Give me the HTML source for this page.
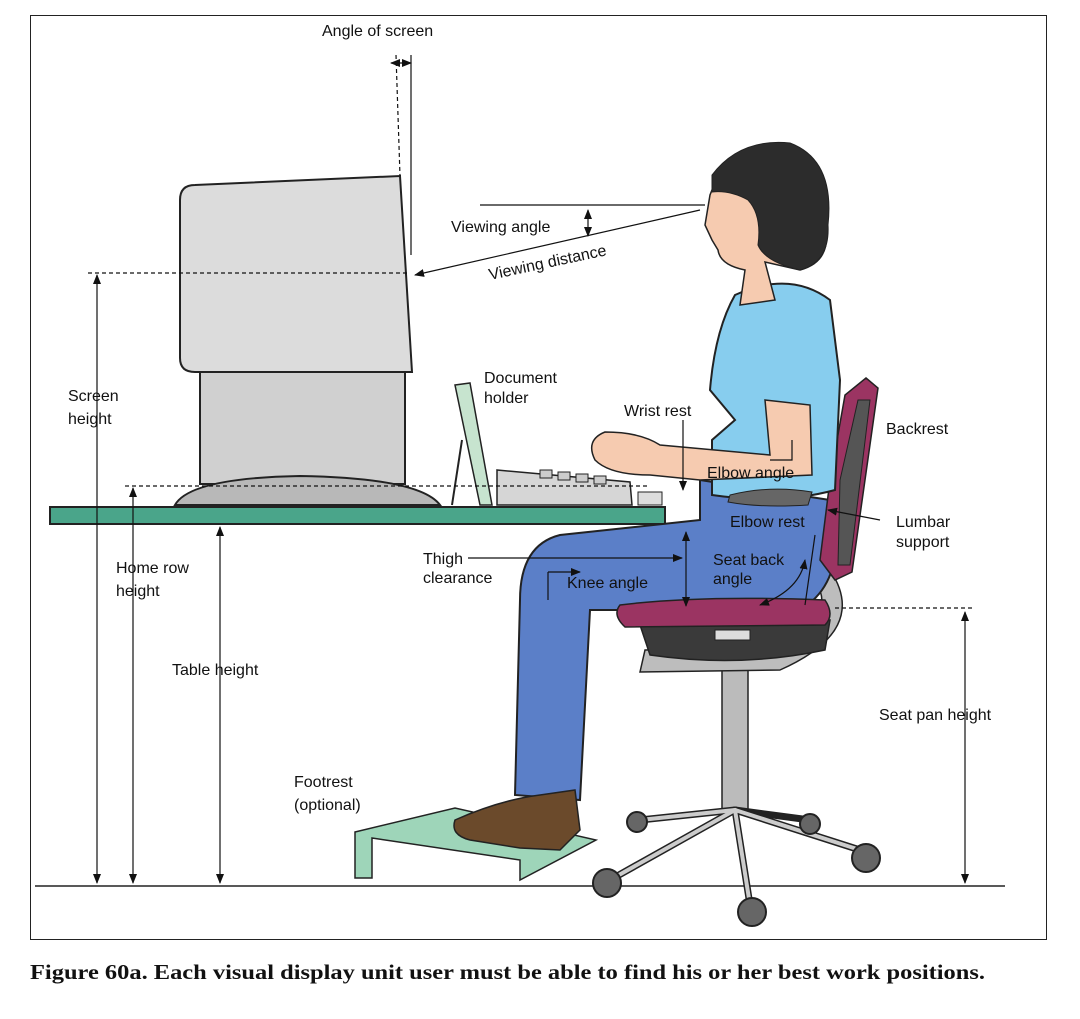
<!DOCTYPE html>
<html><head><meta charset="utf-8"><style>
html,body{margin:0;padding:0;background:#fff;width:1080px;height:1019px;overflow:hidden}
svg text{font-family:"Liberation Sans",sans-serif;font-size:16px;fill:#111}
</style></head><body>
<svg width="1080" height="1019" viewBox="0 0 1080 1019" xmlns="http://www.w3.org/2000/svg">
<defs><marker id="a" markerWidth="10" markerHeight="10" refX="9" refY="5" orient="auto-start-reverse" markerUnits="userSpaceOnUse"><path d="M0,1 L10,5 L0,9 Z" fill="#111"/></marker></defs>
<rect x="30.5" y="15.5" width="1016" height="924" fill="#fff" stroke="#222" stroke-width="1"/>
<line x1="35" y1="886" x2="1005" y2="886" stroke="#222" stroke-width="1.5"/>
<path d="M195,185 Q180,185 180,200 L180,358 Q180,372 195,372 L412,372 L400,176 Z" fill="#dcdcdc" stroke="#222" stroke-width="2"/>
<rect x="200" y="372" width="205" height="112" fill="#d0d0d0" stroke="#222" stroke-width="2"/>
<path d="M175,505 Q190,478 300,476 Q420,478 440,505 Z" fill="#b8b8b8" stroke="#222" stroke-width="2"/>
<path d="M455,385 L470,383 L492,505 L480,505 Z" fill="#c7e4cf" stroke="#222" stroke-width="1.5"/>
<line x1="462" y1="440" x2="452" y2="505" stroke="#222" stroke-width="2"/>
<path d="M497,470 L630,482 L632,505 L497,505 Z" fill="#d6d6d6" stroke="#222" stroke-width="1.5"/>
<g fill="#ccc" stroke="#222"><rect x="540" y="470" width="12" height="8"/><rect x="558" y="472" width="12" height="8"/><rect x="576" y="474" width="12" height="8"/><rect x="594" y="476" width="12" height="8"/></g>
<rect x="638" y="492" width="24" height="13" fill="#ddd" stroke="#222"/>
<rect x="50" y="507" width="615" height="17" fill="#4aa58a" stroke="#222" stroke-width="2"/>
<path d="M355,832 L455,808 L596,840 L520,880 L520,860 L372,838 L372,878 L355,878 Z" fill="#9ed5b9" stroke="#222" stroke-width="1.5"/>
<rect x="722" y="660" width="26" height="150" fill="#bbb" stroke="#222" stroke-width="1.5"/>
<g stroke="#222" stroke-width="7" stroke-linecap="round"><line x1="735" y1="810" x2="610" y2="880"/><line x1="735" y1="810" x2="750" y2="905"/><line x1="735" y1="810" x2="860" y2="850"/><line x1="735" y1="810" x2="640" y2="820"/><line x1="735" y1="810" x2="810" y2="820"/></g>
<g stroke="#ccc" stroke-width="4" stroke-linecap="round"><line x1="735" y1="810" x2="610" y2="880"/><line x1="735" y1="810" x2="750" y2="905"/><line x1="735" y1="810" x2="860" y2="850"/><line x1="735" y1="810" x2="640" y2="820"/></g>
<g fill="#666" stroke="#222" stroke-width="2"><circle cx="607" cy="883" r="14"/><circle cx="752" cy="912" r="14"/><circle cx="866" cy="858" r="14"/><circle cx="637" cy="822" r="10"/><circle cx="810" cy="824" r="10"/></g>
<path d="M830,570 Q870,630 780,670 L640,672 L645,650 L775,648 Q840,620 815,580 Z" fill="#bdbdbd" stroke="#222" stroke-width="1.5"/>
<path d="M640,625 L830,620 L825,650 Q740,668 650,655 Z" fill="#3a3a3a" stroke="#222" stroke-width="1.5"/>
<rect x="715" y="630" width="35" height="10" fill="#ddd" stroke="#222"/>
<path d="M700,480 L830,500 Q850,580 800,610 L620,610 L590,610 L580,800 L515,795 L520,600 Q520,545 560,535 L700,520 Z" fill="#5b7fc8" stroke="#222" stroke-width="2"/>
<path d="M455,820 Q500,800 540,795 L575,790 L580,830 L560,850 L520,848 L470,840 Q450,835 455,820Z" fill="#6b4a2b" stroke="#222" stroke-width="1.5"/>
<path d="M620,605 Q700,595 825,600 Q835,615 825,625 L625,627 Q612,615 620,605 Z" fill="#9b3462" stroke="#222" stroke-width="1.5"/>
<path d="M866,378 L878,388 L852,572 L835,580 L820,560 L830,480 L845,395 Z" fill="#9b3462" stroke="#222" stroke-width="1.5"/>
<path d="M858,400 L870,400 L850,565 L838,565 L840,480 Z" fill="#555" stroke="#222"/>
<path d="M735,295 Q790,270 830,300 L840,380 L835,490 Q780,505 712,495 L712,440 L735,420 L710,390 Q715,330 735,295 Z" fill="#87cdee" stroke="#222" stroke-width="2"/>
<path d="M765,400 L810,405 L812,475 L700,480 L650,475 Q610,475 595,460 Q585,440 605,432 Q640,432 660,445 L770,455 Z" fill="#f6cbb0" stroke="#222" stroke-width="1.5"/>
<path d="M730,495 Q770,485 812,492 L808,505 Q760,508 728,502 Z" fill="#666" stroke="#222"/>
<path d="M720,170 Q760,140 800,150 Q835,170 826,230 Q830,262 800,270 L765,262 L775,300 L740,305 L745,270 Q720,265 718,250 L712,240 L705,225 L710,195 Z" fill="#f6cbb0" stroke="#222" stroke-width="1.5"/>
<path d="M712,175 Q740,138 790,143 Q835,160 828,225 Q830,262 800,270 Q765,262 758,245 Q762,215 748,200 Q730,190 712,192 Z" fill="#2c2c2c" stroke="#222"/>
<g stroke="#111" stroke-width="1.2" fill="none">
<line x1="88" y1="273" x2="410" y2="273" stroke-dasharray="4,3"/>
<line x1="97" y1="275" x2="97" y2="883" marker-start="url(#a)" marker-end="url(#a)"/>
<line x1="125" y1="486" x2="650" y2="486" stroke-dasharray="4,3"/>
<line x1="133" y1="488" x2="133" y2="883" marker-start="url(#a)" marker-end="url(#a)"/>
<line x1="220" y1="527" x2="220" y2="883" marker-start="url(#a)" marker-end="url(#a)"/>
<line x1="835" y1="608" x2="975" y2="608" stroke-dasharray="4,3"/>
<line x1="965" y1="612" x2="965" y2="883" marker-start="url(#a)" marker-end="url(#a)"/>
<line x1="396" y1="55" x2="400" y2="176" stroke-dasharray="4,3"/>
<line x1="411" y1="55" x2="411" y2="255"/>
<line x1="391" y1="63" x2="411" y2="63" marker-start="url(#a)" marker-end="url(#a)"/>
<line x1="480" y1="205" x2="705" y2="205"/>
<line x1="700" y1="210" x2="415" y2="275" marker-end="url(#a)"/>
<line x1="588" y1="210" x2="588" y2="236" marker-start="url(#a)" marker-end="url(#a)"/>
<line x1="683" y1="420" x2="683" y2="490" marker-end="url(#a)"/>
<line x1="686" y1="532" x2="686" y2="606" marker-start="url(#a)" marker-end="url(#a)"/>
<line x1="468" y1="558" x2="682" y2="558" marker-end="url(#a)"/>
<line x1="880" y1="520" x2="828" y2="510" marker-end="url(#a)"/>
<path d="M760,605 Q800,590 805,560" marker-start="url(#a)" marker-end="url(#a)"/>
<line x1="805" y1="605" x2="815" y2="535"/>
<path d="M548,572 L548,600 M548,572 L580,572" marker-end="url(#a)"/>
<path d="M770,460 L792,460 L792,440"/>
</g>
<text x="322" y="36" font-size="17">Angle of screen</text>
<text x="451" y="232">Viewing angle</text>
<text x="490" y="280" transform="rotate(-12 490 280)">Viewing distance</text>
<text x="68" y="401">Screen</text><text x="68" y="424">height</text>
<text x="484" y="383" font-size="15">Document</text><text x="484" y="403" font-size="15">holder</text>
<text x="624" y="416" font-size="15">Wrist rest</text>
<text x="707" y="478" font-size="15">Elbow angle</text>
<text x="886" y="434" font-size="15">Backrest</text>
<text x="730" y="527" font-size="15" fill="#111">Elbow rest</text>
<text x="896" y="527" font-size="15">Lumbar</text><text x="896" y="547" font-size="15">support</text>
<text x="116" y="573">Home row</text><text x="116" y="596">height</text>
<text x="423" y="564" font-size="14">Thigh</text><text x="423" y="583" font-size="14">clearance</text>
<text x="567" y="588" font-size="15">Knee angle</text>
<text x="713" y="565" font-size="15">Seat back</text><text x="713" y="584" font-size="15">angle</text>
<text x="172" y="675">Table height</text>
<text x="879" y="720">Seat pan height</text>
<text x="294" y="787">Footrest</text><text x="294" y="810">(optional)</text>
<text x="30" y="979" textLength="955" lengthAdjust="spacingAndGlyphs" style="font-family:'Liberation Serif',serif;font-weight:bold;font-size:21px">Figure 60a. Each visual display unit user must be able to find his or her best work positions.</text>
</svg>
</body></html>
